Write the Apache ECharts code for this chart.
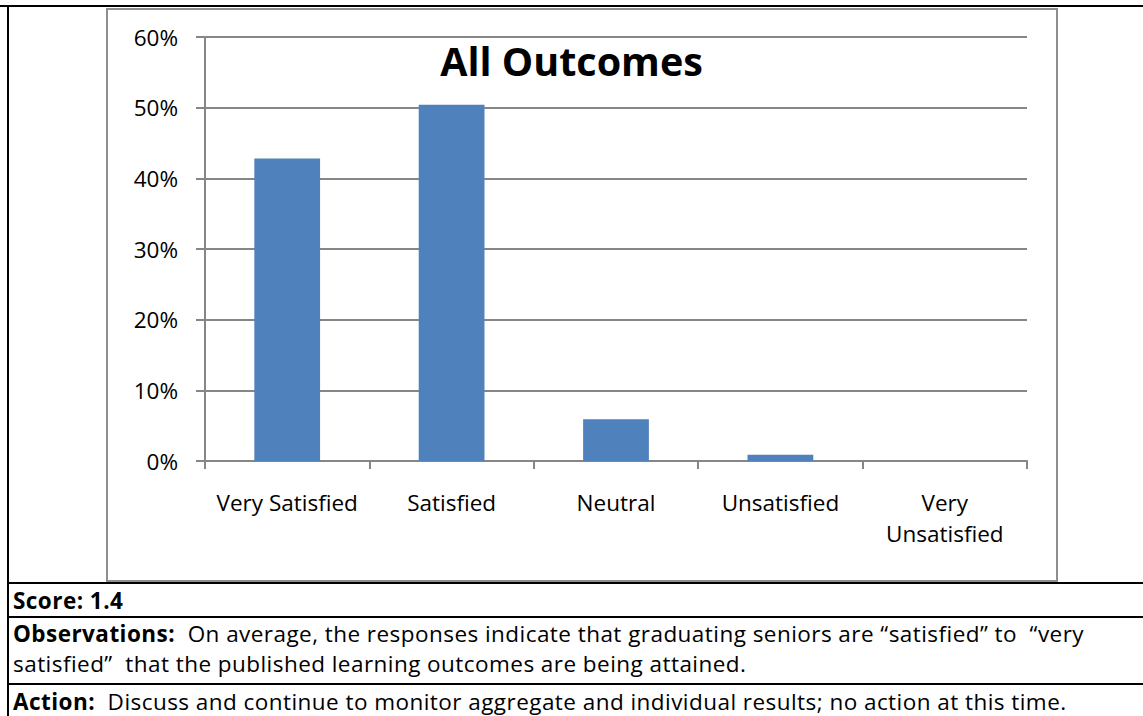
<!DOCTYPE html>
<html>
<head>
<meta charset="utf-8">
<script src="https://cdn.jsdelivr.net/npm/echarts@6/dist/echarts.min.js"></script>
<style>
  body { margin: 0; background: #fff; }
  #page { position: relative; width: 1143px; height: 716px; overflow: hidden; font-family: "Open Sans", Lato, sans-serif; color: #000; }
  .rule { position: absolute; background: #000; }
  .box { position: absolute; left: 106px; top: 8px; width: 948px; height: 570px; border: 2px solid #8e8e8e; }
  .row { position: absolute; left: 13px; font-size: 22.5px; line-height: 30px; letter-spacing: 0.45px; white-space: nowrap; }
  #chart { position: absolute; left: 0; top: 0; width: 1143px; height: 716px; }
</style>
</head>
<body>
<div id="page">
  <div class="box"></div>
  <div class="rule" style="left:0;top:5px;width:1143px;height:2px"></div>
  <div class="rule" style="left:7px;top:5px;width:2px;height:711px"></div>
  <div class="rule" style="left:7px;top:582px;width:1136px;height:2px"></div>
  <div class="rule" style="left:7px;top:616px;width:1136px;height:2px"></div>
  <div class="rule" style="left:7px;top:683px;width:1136px;height:2px"></div>
  <div class="row" style="top:586px"><b>Score: 1.4</b></div>
  <div class="row" style="top:619px"><b>Observations:</b>&nbsp; On average, the responses indicate that graduating seniors are “satisfied” to &nbsp;“very<br>satisfied” &nbsp;that the published learning outcomes are being attained.</div>
  <div class="row" style="top:687px"><b>Action:</b>&nbsp; Discuss and continue to monitor aggregate and individual results; no action at this time.</div>
  <div id="chart"></div>
</div>
<script>
// survey responses, share of seniors per answer
const categories = ['Very Satisfied', 'Satisfied', 'Neutral', 'Unsatisfied', 'Very\nUnsatisfied']
const shares = [0.428, 0.504, 0.059, 0.009, 0]
const yTicks = [0, 0.1, 0.2, 0.3, 0.4, 0.5, 0.6]

const axisGrey = '#868686'
const font = '"Open Sans", Lato, sans-serif'

const chart = echarts.init(document.getElementById('chart'), null, { renderer: 'svg' })
chart.setOption({
  animation: false,
  title: {
    text: 'All Outcomes',
    left: 'center',
    top: 36,
    textStyle: { fontFamily: font, fontSize: 39.5, fontWeight: 'bold', color: '#000' }
  },
  grid: { left: 205, right: 116, top: 37, bottom: 255 },
  xAxis: {
    type: 'category',
    data: categories,
    axisLine: { lineStyle: { color: axisGrey, width: 2 } },
    axisTick: { show: true, length: 8, lineStyle: { color: axisGrey, width: 2 } },
    axisLabel: { color: '#000', fontFamily: font, fontSize: 22.5, lineHeight: 31, margin: 26, interval: 0 }
  },
  yAxis: {
    type: 'value',
    min: yTicks[0],
    max: yTicks[yTicks.length - 1],
    interval: 0.1,
    axisLine: { show: true, lineStyle: { color: axisGrey, width: 2 } },
    axisTick: { show: true, length: 9, lineStyle: { color: axisGrey, width: 2 } },
    splitLine: { lineStyle: { color: axisGrey, width: 2 } },
    axisLabel: {
      color: '#000', fontFamily: font, fontSize: 22.5, margin: 27,
      formatter: v => Math.round(v * 100) + '%'
    }
  },
  series: [{
    type: 'bar',
    data: shares,
    barWidth: '40%',
    itemStyle: { color: '#4f81bd' }
  }]
})
</script>
</body>
</html>
